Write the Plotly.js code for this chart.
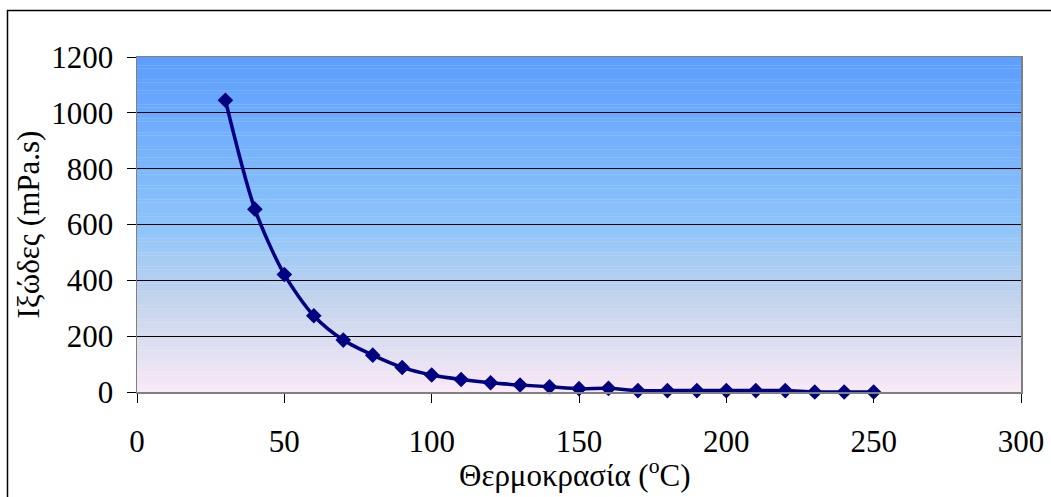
<!DOCTYPE html>
<html>
<head>
<meta charset="utf-8">
<script src="https://cdn.plot.ly/plotly-3.0.1.min.js"></script>
<style>html,body{margin:0;padding:0;background:#fff;}#chart{width:1051px;height:497px;}</style>
</head>
<body>
<div id="chart"></div>
<script>
// Data
const temperature = [30, 40, 50, 60, 70, 80, 90, 100, 110, 120, 130, 140, 150, 160, 170, 180, 190, 200, 210, 220, 230, 240, 250];
const viscosity = [1045, 655, 421, 273, 186, 132, 88, 61, 45, 33, 25, 19, 12, 13, 5, 5, 5, 5, 5, 5, 0, 0, 0];
const xTitle = 'Θερμοκρασία (<sup>o</sup>C)';
const yTitle = 'Ιξώδες (mPa.s)';

// gradient background strips (style only)
const stops = [
  [0.0, [92, 157, 255]],
  [0.5, [140, 196, 250]],
  [0.73, [195, 212, 236]],
  [1.0, [250, 233, 246]]
];
function colorAt(t) {
  for (let i = 0; i < stops.length - 1; i++) {
    const a = stops[i], b = stops[i + 1];
    if (t >= a[0] && t <= b[0]) {
      const f = (t - a[0]) / (b[0] - a[0]);
      const c = a[1].map((v, k) => Math.round(v + (b[1][k] - v) * f));
      return 'rgb(' + c.join(',') + ')';
    }
  }
  return 'rgb(' + stops[stops.length - 1][1].join(',') + ')';
}
const shapes = [];
const N = 120;
for (let i = 0; i < N; i++) {
  const t = (i + 0.5) / N;
  shapes.push({
    type: 'rect', xref: 'paper', yref: 'paper', layer: 'below',
    x0: 0, x1: 1, y0: 1 - (i + 1) / N - 0.001, y1: 1 - i / N,
    fillcolor: colorAt(t), line: {width: 0}
  });
}
// outer chart border
shapes.push({
  type: 'rect', xref: 'paper', yref: 'paper', layer: 'above',
  x0: (7.5 - 137) / 884, x1: (1060 - 137) / 884,
  y0: (392 - 520) / 335, y1: (392 - 10.5) / 335,
  fillcolor: 'rgba(0,0,0,0)', line: {color: '#000', width: 1.5}
});

const trace = {
  x: temperature, y: viscosity, type: 'scatter', mode: 'lines+markers',
  line: {color: '#000080', width: 3.5, shape: 'spline', smoothing: 0.8},
  marker: {symbol: 'diamond', size: 12, color: '#000080'},
  cliponaxis: false, hoverinfo: 'skip'
};

const fam = 'Liberation Serif, Times New Roman, serif';
const F = (s) => ({family: fam, size: s, color: '#000'});
const layout = {
  width: 1051, height: 497,
  margin: {l: 137, r: 30, t: 57, b: 105},
  paper_bgcolor: '#fff', plot_bgcolor: 'rgba(0,0,0,0)',
  showlegend: false,
  font: F(31),
  xaxis: {
    range: [0, 300], dtick: 50, tick0: 0,
    showgrid: false, zeroline: false,
    showline: true, linecolor: '#808080', linewidth: 1.5, mirror: true,
    ticks: 'outside', ticklen: 9, tickcolor: '#000', tickwidth: 1,
    ticklabelstandoff: 12,
    tickfont: F(31)
  },
  yaxis: {
    range: [0, 1200], dtick: 200, tick0: 0,
    showgrid: true, gridcolor: '#000', gridwidth: 1, zeroline: false,
    showline: true, linecolor: '#808080', linewidth: 1.5, mirror: true,
    ticks: 'outside', ticklen: 9, tickcolor: '#000', tickwidth: 1,
    ticklabelstandoff: 7,
    tickfont: F(31),
    title: {text: yTitle, font: F(31), standoff: 2}
  },
  annotations: [{
    text: xTitle, xref: 'paper', yref: 'paper', x: 0.495, y: (392 - 473) / 335,
    xanchor: 'center', yanchor: 'middle', showarrow: false, font: F(31)
  }],
  shapes: shapes
};

Plotly.newPlot('chart', [trace], layout, {displayModeBar: false, staticPlot: true});
</script>
</body>
</html>
